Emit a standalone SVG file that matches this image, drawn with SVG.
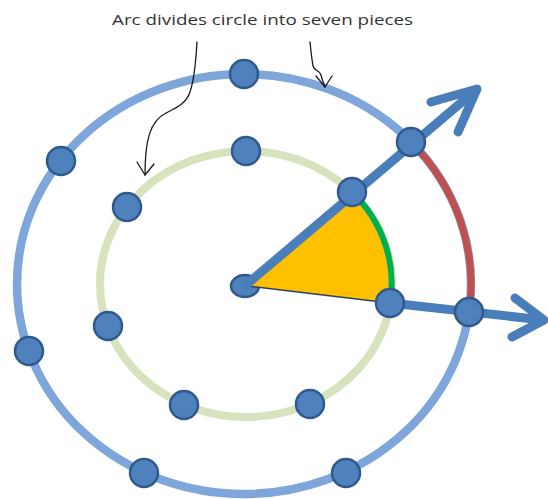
<svg xmlns="http://www.w3.org/2000/svg" width="548" height="499" viewBox="0 0 548 499">
  <style>
    .dot { fill: #4f81bd; stroke: #2e5a8e; stroke-width: 2.5; }
    .ray { fill: none; stroke: #4a7ebb; stroke-width: 9; stroke-linecap: round; stroke-linejoin: round; }
    .hand { fill: none; stroke: #1a1a1a; stroke-width: 1.3; stroke-linecap: round; stroke-linejoin: round; }
    .label { font-family: "Open Sans", "Liberation Sans", sans-serif; font-size: 15px; fill: #333333; }
  </style>
  <rect width="548" height="499" fill="#ffffff"/>

  <g id="rings">
    <ellipse id="outer-ring" cx="244" cy="284" rx="227" ry="210" fill="none" stroke="#7ea6db" stroke-width="8.5"/>
    <ellipse id="inner-ring" cx="246" cy="284" rx="146" ry="133" fill="none" stroke="#d6e3bc" stroke-width="8"/>
  </g>

  <g id="center">
    <ellipse class="dot" cx="245" cy="286" rx="14" ry="11"/>
  </g>

  <g id="wedge">
    <path fill="#ffc000" d="M248,286 L352,192 A146,133 0 0 1 390,303 Z"/>
    <path fill="none" stroke="#00b050" stroke-width="6" d="M352,192 A146,133 0 0 1 390,303"/>
    <line x1="248" y1="286" x2="390" y2="303" stroke="#2a3f66" stroke-width="1.5"/>
  </g>

  <g id="red-arc">
    <path fill="none" stroke="#c0504d" stroke-width="7" d="M411,142 A227,210 0 0 1 469,312"/>
  </g>

  <g id="connectors">
    <path class="ray" d="M246,285 L476,90"/>
    <path class="ray" d="M431,102 L477,89 L458,132"/>
    <path class="ray" d="M390,303 L543,320"/>
    <path class="ray" d="M515,298 L544,320 L512,337"/>
    <path class="hand" d="M197,42 C196,60 194,80 190,92 C186,104 176,108 166,113 C150,121 145,140 145,175"/>
    <path class="hand" d="M137,162 L145,175 L154,164"/>
    <path class="hand" d="M310,42 C311,52 312,60 313,66 C314,71 320,70 321,75 C322,80 324,84 325,87"/>
    <path class="hand" d="M316,76 L325,87 L332,76"/>
  </g>

  <g id="outer-dots">
    <circle id="o1" class="dot" cx="244" cy="74" r="14"/>
    <circle id="o2" class="dot" cx="411" cy="142" r="14"/>
    <circle id="o3" class="dot" cx="469" cy="312" r="14"/>
    <circle id="o4" class="dot" cx="346" cy="473" r="14"/>
    <circle id="o5" class="dot" cx="144" cy="473" r="14"/>
    <circle id="o6" class="dot" cx="29" cy="351" r="14"/>
    <circle id="o7" class="dot" cx="61" cy="161" r="14"/>
  </g>
  <g id="inner-dots">
    <circle id="i1" class="dot" cx="246" cy="151" r="14"/>
    <circle id="i2" class="dot" cx="352" cy="192" r="14"/>
    <circle id="i3" class="dot" cx="390" cy="303" r="14"/>
    <circle id="i4" class="dot" cx="310" cy="404" r="14"/>
    <circle id="i5" class="dot" cx="184" cy="405" r="14"/>
    <circle id="i6" class="dot" cx="108" cy="326" r="14"/>
    <circle id="i7" class="dot" cx="127" cy="207" r="14"/>
  </g>

  <g id="caption">
    <text class="label" x="112" y="25" textLength="301" lengthAdjust="spacingAndGlyphs">Arc divides circle into seven pieces</text>
  </g>
</svg>
